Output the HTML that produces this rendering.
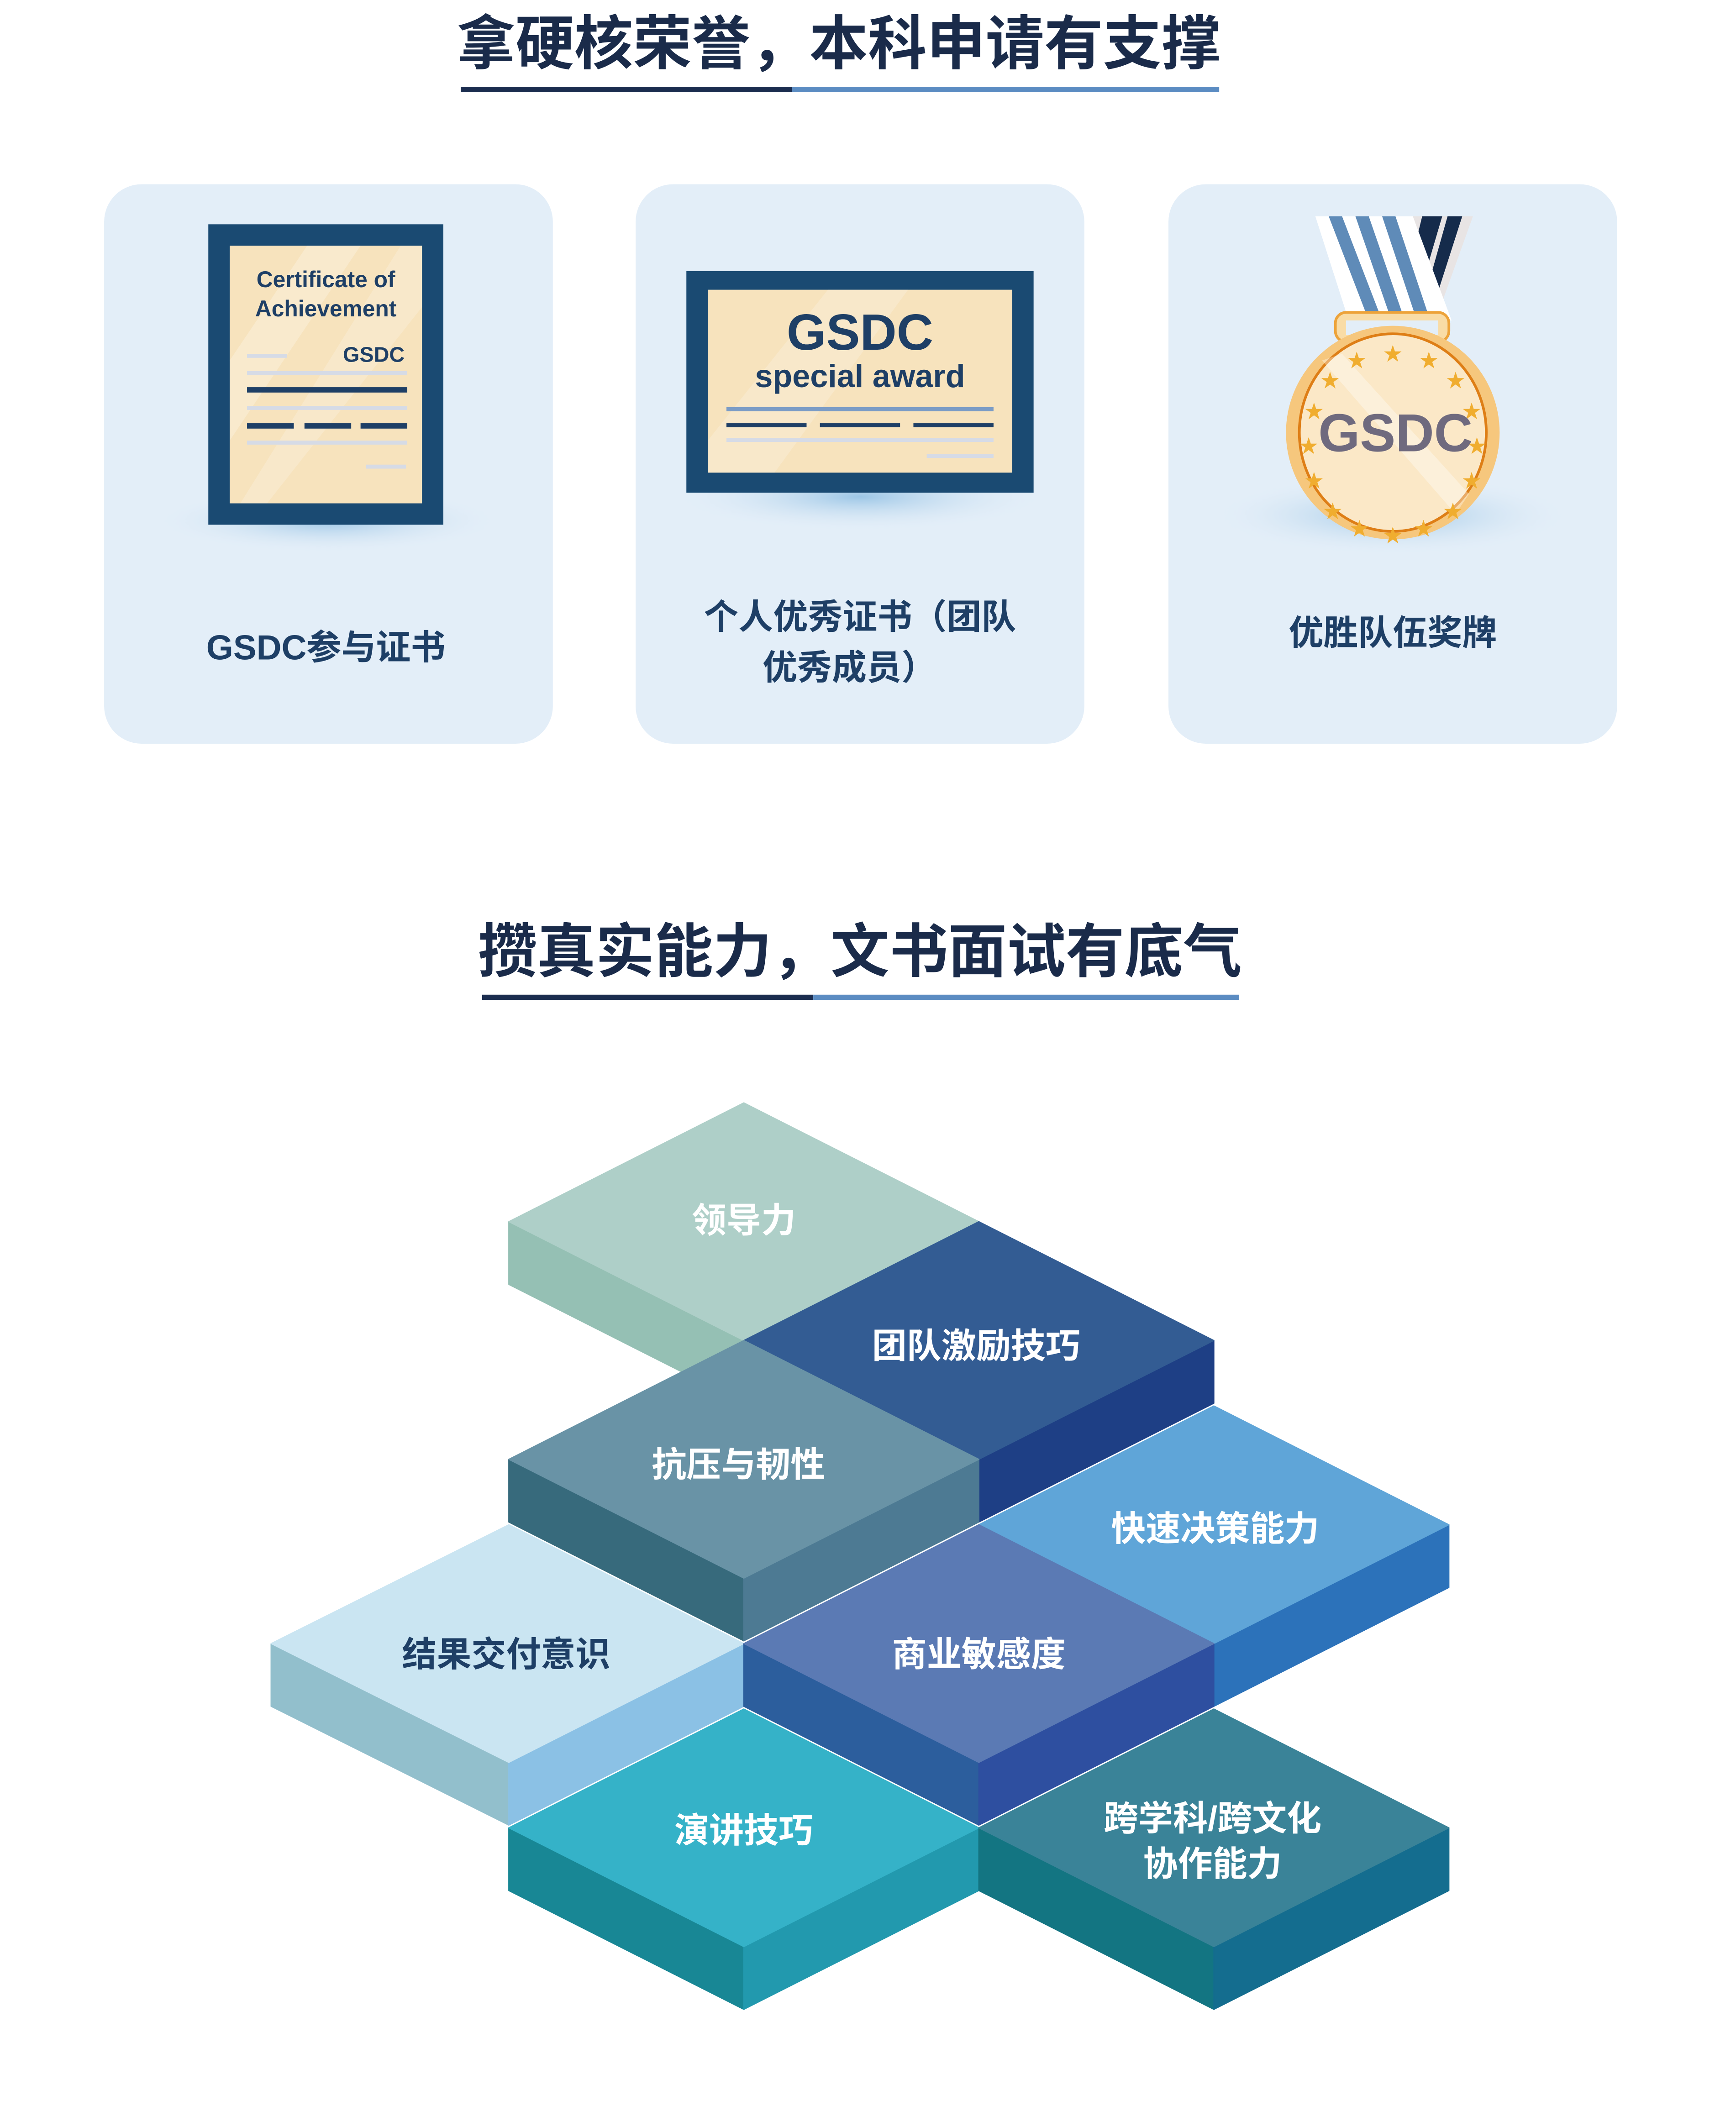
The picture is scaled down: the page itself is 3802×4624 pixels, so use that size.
<!DOCTYPE html>
<html><head><meta charset="utf-8"><style>
html,body{margin:0;padding:0;background:#fff}
svg{display:block}
text{font-family:"Liberation Sans","Noto Sans CJK SC",sans-serif;font-weight:bold}
.iso polygon{stroke-width:.8;stroke-linejoin:round}
</style></head><body>
<svg width="3802" height="4624" viewBox="0 0 1300 1581.1" preserveAspectRatio="none" xmlns="http://www.w3.org/2000/svg">
<defs>
<radialGradient id="sh" cx="50%" cy="50%" r="50%"><stop offset="0" stop-color="#9cc6e6"/><stop offset="1" stop-color="#e3eef8" stop-opacity="0"/></radialGradient>
</defs>
<rect width="1300" height="1581.1" fill="#fff"/>
<text x="628" y="48" font-size="44" text-anchor="middle" fill="#1a2b4a">拿硬核荣誉，本科申请有支撑</text>
<rect x="345" y="65" width="248" height="4" fill="#1b2d4f"/><rect x="593" y="65" width="320" height="4" fill="#5b8cc2"/>
<rect x="78" y="138" width="336" height="419" rx="28" fill="#e3eef8"/>
<rect x="476" y="138" width="336" height="419" rx="28" fill="#e3eef8"/>
<rect x="875" y="138" width="336" height="419" rx="28" fill="#e3eef8"/>
<ellipse cx="245" cy="390" rx="130" ry="24" fill="url(#sh)"/>
<rect x="156" y="168" width="176" height="225" fill="#1a4a72"/>
<rect x="172" y="184" width="144" height="193" fill="#f7e3bd"/>
<polygon points="230,184 270,184 172,330 172,270" fill="#fff" opacity=".25"/>
<polygon points="300,184 316,184 316,230 200,377 180,377" fill="#fff" opacity=".2"/>
<text x="244" y="215" font-size="17" text-anchor="middle" fill="#1e3f66">Certificate of</text>
<text x="244" y="237" font-size="17" text-anchor="middle" fill="#1e3f66">Achievement</text>
<text x="303" y="271" font-size="16" text-anchor="end" fill="#1e3f66">GSDC</text>
<rect x="185" y="265" width="30" height="3" fill="#d6dbe6"/>
<rect x="185" y="278" width="120" height="3" fill="#d6dbe6"/>
<rect x="185" y="290" width="120" height="4" fill="#1e3f66"/>
<rect x="185" y="304" width="120" height="3" fill="#d6dbe6"/>
<rect x="185" y="317" width="35" height="4" fill="#1e3f66"/><rect x="228" y="317" width="35" height="4" fill="#1e3f66"/><rect x="270" y="317" width="35" height="4" fill="#1e3f66"/>
<rect x="185" y="330" width="120" height="3" fill="#d6dbe6"/>
<rect x="274" y="348" width="30" height="3" fill="#d6dbe6"/>
<text x="244" y="494" font-size="26" text-anchor="middle" fill="#1e3f66">GSDC参与证书</text>
<ellipse cx="644" cy="372" rx="140" ry="26" fill="url(#sh)"/>
<rect x="514" y="203" width="260" height="166" fill="#1a4a72"/>
<rect x="530" y="217" width="228" height="137" fill="#f7e3bd"/>
<polygon points="620,217 680,217 580,354 530,354 530,330" fill="#fff" opacity=".2"/>
<text x="644" y="262" font-size="38" text-anchor="middle" fill="#1e3f66">GSDC</text>
<text x="644" y="290" font-size="24" text-anchor="middle" fill="#1e3f66">special award</text>
<rect x="544" y="305" width="200" height="3" fill="#7b9cc6"/>
<rect x="544" y="317" width="60" height="3" fill="#1e3f66"/><rect x="614" y="317" width="60" height="3" fill="#1e3f66"/><rect x="684" y="317" width="60" height="3" fill="#1e3f66"/>
<rect x="544" y="328" width="200" height="3" fill="#d6dbe6"/>
<rect x="694" y="340" width="50" height="3" fill="#d6dbe6"/>
<text x="644" y="471" font-size="26" text-anchor="middle" fill="#1e3f66">个人优秀证书（团队</text>
<text x="636" y="509" font-size="26" text-anchor="middle" fill="#1e3f66">优秀成员）</text>
<ellipse cx="1043" cy="386" rx="135" ry="30" fill="url(#sh)"/>
<polygon points="1058,162 1103,162 1075,240 1045,240" fill="#e8e4e4"/>
<polygon points="1065,162 1080,162 1060,230 1052,215" fill="#152b4b"/>
<polygon points="1084,162 1095,162 1070,240 1062,240" fill="#152b4b"/>
<polygon points="985,162 1058,162 1087,240 1010,240" fill="#fff"/>
<polygon points="995,162 1005,162 1035,240 1025,240" fill="#5f8bb8"/>
<polygon points="1015,162 1025,162 1052,240 1042,240" fill="#5f8bb8"/>
<polygon points="1035,162 1045,162 1071,240 1061,240" fill="#5f8bb8"/>
<rect x="1000" y="234" width="85" height="22" rx="8" fill="#f9dca6" stroke="#eda33a" stroke-width="2"/>
<rect x="1008" y="240" width="69" height="11" fill="#e3eef8"/>
<rect x="1024" y="254" width="38" height="16" fill="#f6c77d"/>
<ellipse cx="1043" cy="324" rx="80" ry="80" fill="#f6c77d"/>
<ellipse cx="1043" cy="324" rx="70" ry="74" fill="#fbe8c7" stroke="#de7e16" stroke-width="2"/>
<polygon points="990,270 1005,265 1100,370 1090,385" fill="#fff" opacity=".35"/>
<g font-size="14" fill="#f0ad2f" text-anchor="middle">
<text x="1043" y="270">★</text><text x="1070" y="275">★</text><text x="1090" y="290">★</text><text x="1102" y="313">★</text><text x="1106" y="339">★</text><text x="1102" y="365">★</text><text x="1088" y="388">★</text><text x="1066" y="401">★</text><text x="1043" y="406">★</text><text x="1018" y="401">★</text><text x="998" y="388">★</text><text x="984" y="365">★</text><text x="980" y="339">★</text><text x="984" y="313">★</text><text x="996" y="290">★</text><text x="1016" y="275">★</text>
</g>
<text x="1045" y="338" font-size="40" text-anchor="middle" fill="#6f6a7e">GSDC</text>
<text x="1043" y="483" font-size="26" text-anchor="middle" fill="#1e3f66">优胜队伍奖牌</text>
<text x="644" y="728" font-size="44" text-anchor="middle" fill="#1a2b4a">攒真实能力，文书面试有底气</text>
<rect x="361" y="745" width="248" height="4" fill="#1b2d4f"/><rect x="609" y="745" width="319" height="4" fill="#5b8cc2"/>
<g class="iso">
<polygon points="381,915 557,1004 557,1051 381,962" fill="#95c0b4" stroke="#95c0b4"/>
<polygon points="557,826 733,915 557,1004 381,915" fill="#aecfc8" stroke="#aecfc8"/>
<polygon points="909,1004 909,1051 733,1140 733,1093" fill="#1e3f85" stroke="#1e3f85"/>
<polygon points="733,915 909,1004 733,1093 557,1004" fill="#335c93" stroke="#335c93"/>
<polygon points="381,1093 557,1182 557,1229 381,1140" fill="#376a7c" stroke="#376a7c"/>
<polygon points="733,1093 733,1140 557,1229 557,1182" fill="#4d7a93" stroke="#4d7a93"/>
<polygon points="557,1004 733,1093 557,1182 381,1093" fill="#6993a6" stroke="#6993a6"/>
<polygon points="1085,1142 1085,1189 909,1278 909,1231" fill="#2c72ba" stroke="#2c72ba"/>
<polygon points="909,1053 1085,1142 909,1231 733,1142" fill="#5fa5d8" stroke="#5fa5d8"/>
<polygon points="203,1231 381,1320 381,1367 203,1278" fill="#92bfcc" stroke="#92bfcc"/>
<polygon points="557,1231 557,1278 381,1367 381,1320" fill="#8bc1e5" stroke="#8bc1e5"/>
<polygon points="381,1142 557,1231 381,1320 203,1231" fill="#cae5f2" stroke="#cae5f2"/>
<polygon points="557,1231 733,1320 733,1367 557,1278" fill="#2c5e9d" stroke="#2c5e9d"/>
<polygon points="909,1231 909,1278 733,1367 733,1320" fill="#2e4fa0" stroke="#2e4fa0"/>
<polygon points="733,1142 909,1231 733,1320 557,1231" fill="#5b7ab4" stroke="#5b7ab4"/>
<polygon points="381,1369 557,1458 557,1505 381,1416" fill="#188795" stroke="#188795"/>
<polygon points="733,1369 733,1416 557,1505 557,1458" fill="#2299ae" stroke="#2299ae"/>
<polygon points="557,1280 733,1369 557,1458 381,1369" fill="#35b2c8" stroke="#35b2c8"/>
<polygon points="733,1369 909,1458 909,1505 733,1416" fill="#137582" stroke="#137582"/>
<polygon points="1085,1369 1085,1416 909,1505 909,1458" fill="#146d8f" stroke="#146d8f"/>
<polygon points="909,1280 1085,1369 909,1458 733,1369" fill="#3a8398" stroke="#3a8398"/>
</g>
<g font-size="26" text-anchor="middle" fill="#fff">
<text x="557" y="923">领导力</text>
<text x="731" y="1017">团队激励技巧</text>
<text x="553" y="1106">抗压与韧性</text>
<text x="910" y="1154">快速决策能力</text>
<text x="379" y="1248" fill="#1e3f66">结果交付意识</text>
<text x="733" y="1248">商业敏感度</text>
<text x="557" y="1380">演讲技巧</text>
<text x="908" y="1371">跨学科/跨文化</text>
<text x="908" y="1405">协作能力</text>
</g>
</svg>
</body></html>
